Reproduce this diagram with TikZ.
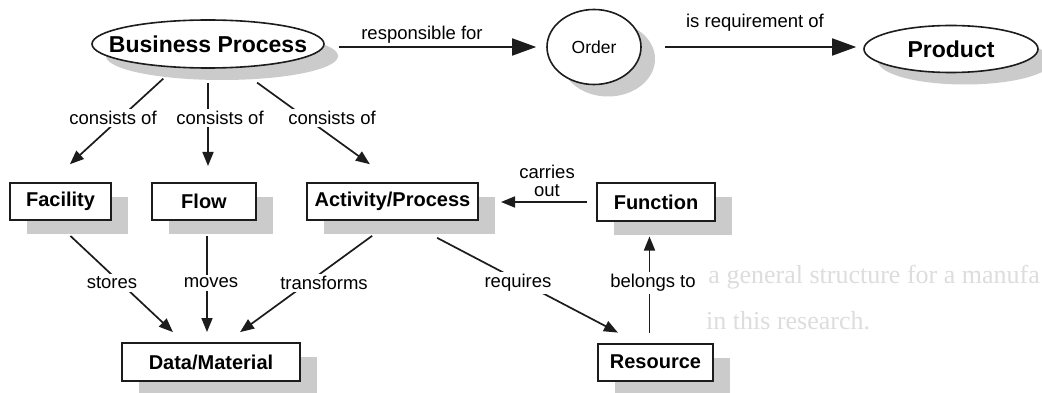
\documentclass[tikz,border=0pt]{standalone}
\usepackage{fontspec}
\setmainfont{Liberation Sans}
\newfontfamily\pagefont{Liberation Serif}
\usetikzlibrary{shapes.geometric,arrows.meta,shadows}
\definecolor{inkc}{HTML}{1C1C1C}
\definecolor{shadowc}{HTML}{CBCBCB}
\definecolor{bleedc}{HTML}{DDDDDD}

\begin{document}
\begin{tikzpicture}[x=1pt,y=-1pt,
  ovalshadow/.style={drop shadow={shadow xshift=14pt,shadow yshift=-12pt,fill=shadowc,opacity=1}},
  boxshadow/.style={drop shadow={shadow xshift=17pt,shadow yshift=-14pt,fill=shadowc,opacity=1}},
  oval/.style={ellipse,draw=inkc,line width=1.6pt,fill=white,inner sep=0pt,ovalshadow},
  boxnode/.style={rectangle,draw=inkc,line width=2pt,fill=white,inner sep=0pt,
    minimum height=37pt,font=\fontsize{20}{24}\selectfont\bfseries,boxshadow},
  link/.style={draw=inkc,line width=1.7pt,-{Triangle[length=14pt,width=11pt]}},
  biglink/.style={draw=inkc,line width=1.7pt,-{Triangle[length=24pt,width=17pt]}},
  tag/.style={fill=white,inner sep=2.5pt,font=\fontsize{18.5}{18}\selectfont},
  tagplain/.style={inner sep=0pt,font=\fontsize{18.5}{18}\selectfont,align=center},
  pageprint/.style={inner sep=0pt,text=bleedc,font=\pagefont\fontsize{26}{30}\selectfont}]

% page area
\useasboundingbox (0,0) rectangle (1042,393);
\fill[white] (0,0) rectangle (1042,393);

% faint print showing through from the reverse side of the sheet
\node[pageprint,anchor=base east] (bleedA) at (1040,283) {a general structure for a manufa};
\node[pageprint,anchor=base west] (bleedB) at (706,329) {in this research.};

% concepts
\node[oval,minimum width=232pt,minimum height=48pt,font=\fontsize{23}{27}\selectfont\bfseries]
  (bp) at (208,44) {\makebox[0pt]{Business Process}};
\node[oval,minimum width=94pt,minimum height=75pt,font=\fontsize{17.5}{20}\selectfont]
  (order) at (594,47) {\makebox[0pt]{Order}};
\node[oval,minimum width=174pt,minimum height=47pt,font=\fontsize{23}{27}\selectfont\bfseries]
  (prod) at (951,49) {\makebox[0pt]{Product}};

\node[boxnode,minimum width=101pt] (fac)  at (60.5,201.5)  {Facility};
\node[boxnode,minimum width=104pt] (flow) at (204,201.5)   {Flow};
\node[boxnode,minimum width=171pt] (act)  at (392.5,201.5) {Activity/Process};
\node[boxnode,minimum width=118pt] (fn)   at (656,202)     {Function};
\node[boxnode,minimum width=178pt,minimum height=38pt] (dm) at (211,362) {Data/Material};
\node[boxnode,minimum width=115pt] (res)  at (655.5,362)   {Resource};

% relations along the top row
\draw[biglink,shorten <=14pt,shorten >=10pt] (bp.east |- order.west) -- (order.west);
\draw[biglink,shorten <=23pt,shorten >=7pt] (order.east) -- (order.east -| prod.west);

% business process decomposition
\draw[link,shorten <=14.6pt,shorten >=26.3pt] ([xshift=-34pt]bp.south) -- ([xshift=-10pt]fac.north);
\draw[link,shorten <=14pt,shorten >=16pt] (bp.south) -- (bp.south |- flow.north);
\draw[link,shorten <=23.6pt,shorten >=30.4pt] ([xshift=30pt]bp.south) -- ([xshift=2pt]act.north);

% function carries out activity
\draw[link,shorten <=9pt,shorten >=22pt] (fn.west) -- (fn.west -| act.east);

% relations towards data/material
\draw[link,shorten <=21.8pt,shorten >=14.5pt] ([xshift=-6pt]fac.south) -- ([xshift=-27.5pt]dm.north);
\draw[link,shorten <=15pt,shorten >=10pt] ([xshift=3pt]flow.south) -- ([xshift=3pt]flow.south |- dm.north);
\draw[link,shorten <=25.2pt,shorten >=16.8pt] (act.south) -- ([xshift=15.5pt]dm.north);

% resource relations
\draw[link,shorten <=36.3pt,shorten >=21.3pt] ([xshift=12.5pt]act.south) -- ([xshift=-18.7pt]res.north);
\draw[link,shorten <=10pt,shorten >=15pt] ([xshift=-6pt]res.north) -- ([xshift=-6pt]res.north |- fn.south);

% relation names
\node[tagplain] (tResp)  at (422,35)  {responsible for};
\node[tagplain] (tReq)   at (755,23)  {is requirement of};
\node[tag]      (tCons1) at (113,118) {consists of};
\node[tag]      (tCons2) at (220,118) {consists of};
\node[tag]      (tCons3) at (332,118) {consists of};
\node[tagplain] (tCarry) at (547,181) {carries\\out};
\node[tag]      (tStore) at (112,283) {stores};
\node[tag]      (tMove)  at (211,283) {moves};
\node[tag]      (tTrans) at (324,283) {transforms};
\node[tag]      (tNeeds) at (518,283) {requires};
\node[tag]      (tBelong) at (653,283) {belongs to};
\end{tikzpicture}
\end{document}
